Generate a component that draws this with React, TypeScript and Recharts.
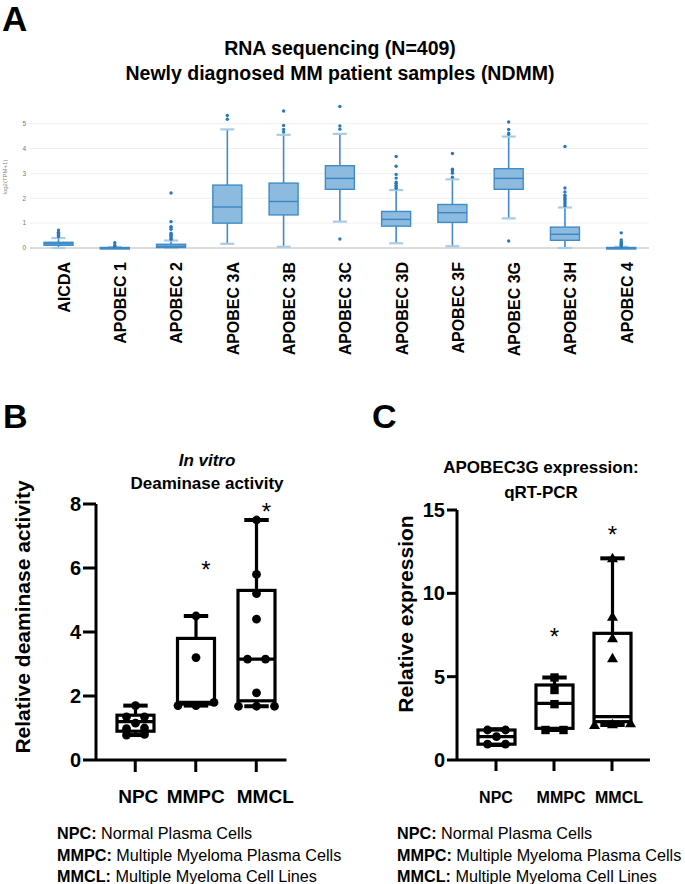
import React from "react";
import { ComposedChart, Bar, XAxis, YAxis, ReferenceLine } from "recharts";

const FONT = "'Liberation Sans', Arial, Helvetica, sans-serif";

// ---- Panel A: RNA-seq log2(TPM+1), box per gene ----
const genes = [
  "AICDA", "APOBEC 1", "APOBEC 2", "APOBEC 3A", "APOBEC 3B", "APOBEC 3C",
  "APOBEC 3D", "APOBEC 3F", "APOBEC 3G", "APOBEC 3H", "APOBEC 4",
];
const rnaWhiskerLow = [0.0, 0.0, 0.0, 0.17, 0.05, 1.06, 0.19, 0.07, 1.19, 0.0, 0.0];
const rnaQ1 = [0.11, 0.0, 0.02, 1.0, 1.33, 2.36, 0.88, 1.03, 2.36, 0.31, 0.0];
const rnaMedian = [0.17, 0.0, 0.07, 1.65, 1.87, 2.8, 1.15, 1.42, 2.8, 0.55, 0.01];
const rnaQ3 = [0.23, 0.02, 0.15, 2.53, 2.61, 3.31, 1.47, 1.75, 3.19, 0.84, 0.02];
const rnaWhiskerHigh = [0.4, 0.04, 0.3, 4.77, 4.55, 4.59, 2.33, 2.76, 4.48, 1.63, 0.05];
const rnaOutliers = [
  [0.45, 0.5, 0.53, 0.57, 0.6, 0.63, 0.72],
  [0.08, 0.1, 0.21],
  [0.35, 0.4, 0.45, 0.5, 0.55, 0.6, 0.75, 0.82, 0.86, 1.06, 2.21],
  [5.18, 5.33],
  [4.66, 4.77, 4.93, 5.51],
  [0.36, 4.78, 4.91, 5.69],
  [2.4, 2.46, 2.52, 2.6, 2.65, 2.81, 2.96, 3.29, 3.68],
  [2.85, 3.01, 3.1, 3.17, 3.8],
  [0.28, 4.57, 4.62, 4.77, 5.07],
  [1.7, 1.78, 1.85, 1.93, 1.98, 2.05, 2.12, 2.25, 2.41, 4.08],
  [0.08, 0.12, 0.16, 0.2, 0.24, 0.32, 0.61],
];
const rnaTicks = [0, 1, 2, 3, 4, 5];

// ---- Panel B: in vitro deaminase activity ----
const groups = ["NPC", "MMPC", "MMCL"];
const deamMin = [0.78, 1.7, 1.68];
const deamQ1 = [0.9, 1.75, 1.85];
const deamMedian = [1.2, 1.8, 3.15];
const deamQ3 = [1.4, 3.8, 5.3];
const deamMax = [1.7, 4.5, 7.5];
const deamPoints = [
  [0.78, 0.8, 0.98, 1.0, 1.15, 1.35, 1.35, 1.7],
  [1.7, 1.7, 1.8, 3.2, 4.5],
  [1.68, 1.68, 1.68, 2.1, 3.15, 3.15, 4.4, 5.2, 5.8, 7.5],
];
const deamStars = [null, 6.1, 7.9];
const deamTicks = [0, 2, 4, 6, 8];

// ---- Panel C: APOBEC3G qRT-PCR ----
const exprMin = [0.9, 1.8, 2.1];
const exprQ1 = [0.95, 1.9, 2.3];
const exprMedian = [1.4, 3.4, 2.6];
const exprQ3 = [1.8, 4.5, 7.6];
const exprMax = [1.85, 4.95, 12.1];
const exprPoints = [
  [0.95, 0.95, 1.4, 1.8, 1.8],
  [1.8, 1.8, 3.35, 4.2, 4.95],
  [2.1, 2.15, 2.2, 6.1, 7.3, 8.6, 12.1],
];
const exprStars = [null, 7.7, 13.8];
const exprMarkers = ["circle", "square", "triangle"];
const exprTicks = [0, 5, 10, 15];

const rnaData = genes.map((g, i) => ({
  name: g,
  wLow: rnaWhiskerLow[i],
  q1: rnaQ1[i],
  med: rnaMedian[i],
  q3: rnaQ3[i],
  wHigh: rnaWhiskerHigh[i],
  out: rnaOutliers[i],
  lo: Math.min(rnaWhiskerLow[i], ...rnaOutliers[i]),
  hi: Math.max(rnaWhiskerHigh[i], ...rnaOutliers[i]),
}));

const deamData = groups.map((g, i) => ({
  name: g,
  min: deamMin[i],
  q1: deamQ1[i],
  med: deamMedian[i],
  q3: deamQ3[i],
  max: deamMax[i],
  points: deamPoints[i],
  star: deamStars[i],
  marker: "circle",
}));

const exprData = groups.map((g, i) => ({
  name: g,
  min: exprMin[i],
  q1: exprQ1[i],
  med: exprMedian[i],
  q3: exprQ3[i],
  max: exprMax[i],
  points: exprPoints[i],
  star: exprStars[i],
  marker: exprMarkers[i],
}));

// box for panel A; pixel mapping taken from the range bar recharts hands us
function RnaBox(props: any) {
  const { x, y, width, height, payload } = props;
  const top = Math.min(y, y + height);
  const h = Math.abs(height);
  const k = h / (payload.hi - payload.lo);
  const py = (v: number) => top + h - (v - payload.lo) * k;
  const cx = x + width / 2;
  const boxTop = py(payload.q3);
  const boxH = Math.max(py(payload.q1) - boxTop, 1.5);
  return (
    <g>
      <line x1={cx} x2={cx} y1={py(payload.wHigh)} y2={boxTop} stroke="#3f8cc9" strokeWidth={1.6} />
      <line x1={cx} x2={cx} y1={py(payload.q1)} y2={py(payload.wLow)} stroke="#3f8cc9" strokeWidth={1.6} />
      <line x1={cx - 7} x2={cx + 7} y1={py(payload.wHigh)} y2={py(payload.wHigh)} stroke="#a9cbe8" strokeWidth={2.2} />
      <line x1={cx - 7} x2={cx + 7} y1={py(payload.wLow)} y2={py(payload.wLow)} stroke="#a9cbe8" strokeWidth={2.2} />
      <rect x={x} y={boxTop} width={width} height={boxH} fill="#8dbadf" stroke="#3f8cc9" strokeWidth={1.4} />
      <line x1={x} x2={x + width} y1={py(payload.med)} y2={py(payload.med)} stroke="#3a86c4" strokeWidth={1.4} />
      {payload.out.map((v: number, i: number) => (
        <circle key={i} cx={cx} cy={py(v)} r={1.7} fill="#2a78bb" />
      ))}
    </g>
  );
}

const NoShape = () => null;

function Marker({ kind, cx, cy }: { kind: string; cx: number; cy: number }) {
  if (kind === "square") return <rect x={cx - 4.2} y={cy - 4.2} width={8.4} height={8.4} fill="#000" />;
  if (kind === "triangle")
    return <polygon points={`${cx},${cy - 5.5} ${cx + 5.5},${cy + 4} ${cx - 5.5},${cy + 4}`} fill="#000" />;
  return <circle cx={cx} cy={cy} r={4.4} fill="#000" />;
}

// box + whiskers + individual points (GraphPad style)
function DotBox(props: any) {
  const { x, y, width, height, payload, starDx } = props;
  const top = Math.min(y, y + height);
  const h = Math.abs(height);
  const k = h / (payload.max - payload.min);
  const py = (v: number) => top + h - (v - payload.min) * k;
  const cx = x + width / 2;
  const cap = width * 0.33;

  // spread overlapping points sideways
  const sorted = [...payload.points].sort((a: number, b: number) => a - b);
  const placed: { v: number; dx: number }[] = [];
  let cluster: number[] = [];
  const flush = () => {
    cluster.forEach((v, i) => placed.push({ v, dx: (i - (cluster.length - 1) / 2) * 18 }));
    cluster = [];
  };
  sorted.forEach((v: number) => {
    if (cluster.length && Math.abs(py(v) - py(cluster[0])) > 5) flush();
    cluster.push(v);
  });
  flush();

  const sw = 3.2;
  return (
    <g>
      <line x1={cx} x2={cx} y1={py(payload.max)} y2={py(payload.q3)} stroke="#000" strokeWidth={sw} />
      <line x1={cx} x2={cx} y1={py(payload.q1)} y2={py(payload.min)} stroke="#000" strokeWidth={sw} />
      <line x1={cx - cap} x2={cx + cap} y1={py(payload.max)} y2={py(payload.max)} stroke="#000" strokeWidth={4} />
      <line x1={cx - cap} x2={cx + cap} y1={py(payload.min)} y2={py(payload.min)} stroke="#000" strokeWidth={4} />
      <rect
        x={x}
        y={py(payload.q3)}
        width={width}
        height={py(payload.q1) - py(payload.q3)}
        fill="#fff"
        stroke="#000"
        strokeWidth={sw}
      />
      <line x1={x} x2={x + width} y1={py(payload.med)} y2={py(payload.med)} stroke="#000" strokeWidth={sw} />
      {placed.map((p, i) => (
        <Marker key={i} kind={payload.marker} cx={cx + p.dx} cy={py(p.v)} />
      ))}
      {payload.star != null && (
        <text
          x={cx + (starDx || 0)}
          y={py(payload.star)}
          dy={13}
          textAnchor="middle"
          fontSize={24}
          fontFamily={FONT}
          fill="#000"
        >
          *
        </text>
      )}
    </g>
  );
}

function GeneTick(props: any) {
  const { x, y, payload } = props;
  return (
    <text
      transform={`translate(${x + 6},${y + 14}) rotate(-90)`}
      textAnchor="end"
      dy="0.36em"
      fontSize={16}
      fontWeight="bold"
      fontFamily={FONT}
      fill="#000"
    >
      {payload.value}
    </text>
  );
}

function GroupTick(props: any) {
  const { x, y, payload, index, size, shift, drop } = props;
  return (
    <text
      x={x + (shift[index] || 0)}
      y={y + drop}
      textAnchor="middle"
      fontSize={size}
      fontWeight="bold"
      fontFamily={FONT}
      fill="#000"
    >
      {payload.value}
    </text>
  );
}

const axisTick = (size: number) => ({ fontSize: size, fontWeight: "bold", fill: "#000", fontFamily: FONT });

const rnaMargin = { top: 98.8, right: 36, bottom: 0, left: 0 };
const rnaRange = (d: any) => [d.lo, d.hi];

export default function App() {
  return (
    <div style={{ position: "absolute", left: 0, top: 0, width: 685, height: 884, background: "#fff", overflow: "hidden" }}>
      {/* panel A, back layer: axes + faint grid */}
      <div style={{ position: "absolute", left: 0, top: 0 }}>
        <ComposedChart width={685} height={380} data={rnaData} margin={rnaMargin}>
          <XAxis
            dataKey="name"
            height={132}
            tickSize={0}
            tickMargin={0}
            interval={0}
            axisLine={{ stroke: "#dcdcdc", strokeWidth: 2 }}
            tickLine={false}
            tick={<GeneTick />}
          />
          <YAxis
            width={30}
            domain={[0, 6]}
            ticks={rnaTicks}
            interval={0}
            tickSize={0}
            tickMargin={4}
            axisLine={false}
            tickLine={false}
            tick={{ fontSize: 6.5, fill: "#777", fontFamily: FONT }}
          />
          {rnaTicks
            .filter((t) => t > 0)
            .map((t) => (
              <ReferenceLine key={t} y={t} stroke="#efefef" strokeWidth={1} />
            ))}
          <Bar dataKey={rnaRange} barSize={29} shape={<NoShape />} isAnimationActive={false} />
        </ComposedChart>
      </div>
      {/* panel A, front layer: boxes */}
      <div style={{ position: "absolute", left: 0, top: 0 }}>
        <ComposedChart width={685} height={380} data={rnaData} margin={rnaMargin}>
          <XAxis dataKey="name" height={132} interval={0} axisLine={false} tickLine={false} tick={false} />
          <YAxis width={30} domain={[0, 6]} ticks={rnaTicks} axisLine={false} tickLine={false} tick={false} />
          <Bar dataKey={rnaRange} barSize={29} shape={<RnaBox />} isAnimationActive={false} />
        </ComposedChart>
      </div>

      <div style={{ position: "absolute", left: 0, top: 480 }}>
        <ComposedChart width={300} height={340} data={deamData} margin={{ top: 24, right: 13.5, bottom: 0, left: 0 }}>
          <XAxis
            dataKey="name"
            height={60}
            padding={{ left: 9, right: 0 }}
            tickSize={12}
            tickMargin={2}
            interval={0}
            axisLine={{ stroke: "#000", strokeWidth: 3 }}
            tickLine={{ stroke: "#000", strokeWidth: 3 }}
            tick={(p: any) => <GroupTick {...p} size={19} shift={[3, 0, 9]} drop={29} />}
          />
          <YAxis
            width={96}
            domain={[0, 8]}
            ticks={deamTicks}
            interval={0}
            tickSize={13}
            tickMargin={2}
            axisLine={{ stroke: "#000", strokeWidth: 3 }}
            tickLine={{ stroke: "#000", strokeWidth: 3 }}
            tick={axisTick(20)}
          />
          <Bar
            dataKey={(d: any) => [d.min, d.max]}
            barSize={37}
            shape={(p: any) => <DotBox {...p} starDx={10} />}
            isAnimationActive={false}
          />
        </ComposedChart>
      </div>

      <div style={{ position: "absolute", left: 340, top: 480 }}>
        <ComposedChart width={340} height={340} data={exprData} margin={{ top: 30, right: 30, bottom: 0, left: 0 }}>
          <XAxis
            dataKey="name"
            height={60}
            padding={{ left: 10, right: 9 }}
            tickSize={11}
            tickMargin={2}
            interval={0}
            axisLine={{ stroke: "#000", strokeWidth: 3 }}
            tickLine={{ stroke: "#000", strokeWidth: 3 }}
            tick={(p: any) => <GroupTick {...p} size={16} shift={[0, 7, 7]} drop={30} />}
          />
          <YAxis
            width={117}
            domain={[0, 15]}
            ticks={exprTicks}
            interval={0}
            tickSize={10}
            tickMargin={2}
            axisLine={{ stroke: "#000", strokeWidth: 3 }}
            tickLine={{ stroke: "#000", strokeWidth: 3 }}
            tick={axisTick(20)}
          />
          <Bar
            dataKey={(d: any) => [d.min, d.max]}
            barSize={37}
            shape={(p: any) => <DotBox {...p} starDx={0} />}
            isAnimationActive={false}
          />
        </ComposedChart>
      </div>

      {/* titles, panel letters, axis titles, legends */}
      <svg
        width={685}
        height={884}
        style={{ position: "absolute", left: 0, top: 0, pointerEvents: "none" }}
        fontFamily={FONT}
      >
        <text x={2} y={31} fontSize={35} fontWeight="bold">A</text>
        <text x={340} y={55} fontSize={19.5} fontWeight="bold" textAnchor="middle">RNA sequencing (N=409)</text>
        <text x={340} y={80} fontSize={19.5} fontWeight="bold" textAnchor="middle">
          Newly diagnosed MM patient samples (NDMM)
        </text>
        <text transform="translate(7,177) rotate(-90)" fontSize={6} fill="#888" textAnchor="middle">log2(TPM+1)</text>

        <text x={3} y={428} fontSize={34} fontWeight="bold">B</text>
        <text x={207} y={466} fontSize={17} fontWeight="bold" fontStyle="italic" textAnchor="middle">In vitro</text>
        <text x={207} y={489} fontSize={17} fontWeight="bold" textAnchor="middle">Deaminase activity</text>
        <text transform="translate(22,617) rotate(-90)" dy="0.36em" fontSize={21} fontWeight="bold" textAnchor="middle">
          Relative deaminase activity
        </text>

        <text x={372} y={428} fontSize={34} fontWeight="bold">C</text>
        <text x={541} y={473} fontSize={17} fontWeight="bold" textAnchor="middle">APOBEC3G expression:</text>
        <text x={541} y={498} fontSize={17} fontWeight="bold" textAnchor="middle">qRT-PCR</text>
        <text transform="translate(405,614) rotate(-90)" dy="0.36em" fontSize={21} fontWeight="bold" textAnchor="middle">
          Relative expression
        </text>

        {[57, 397].map((lx) => (
          <g key={lx} fontSize={16.2}>
            <text x={lx} y={839}>
              <tspan fontWeight="bold">NPC:</tspan> Normal Plasma Cells
            </text>
            <text x={lx} y={861}>
              <tspan fontWeight="bold">MMPC:</tspan> Multiple Myeloma Plasma Cells
            </text>
            <text x={lx} y={882}>
              <tspan fontWeight="bold">MMCL:</tspan> Multiple Myeloma Cell Lines
            </text>
          </g>
        ))}
      </svg>
    </div>
  );
}
